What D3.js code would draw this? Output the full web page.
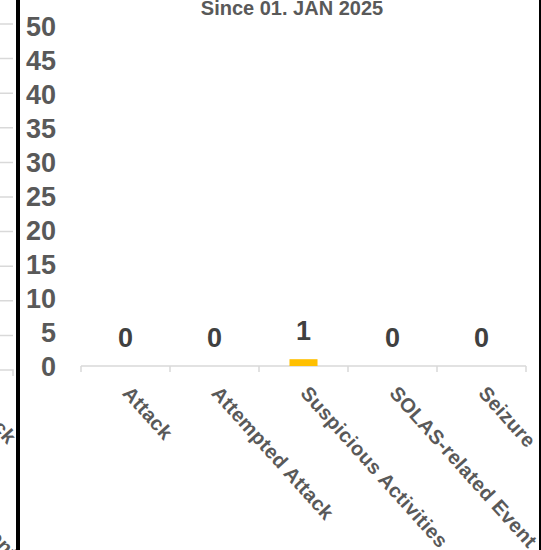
<!DOCTYPE html>
<html>
<head>
<meta charset="utf-8">
<script src="https://cdn.jsdelivr.net/npm/d3@7"></script>
<style>
  body { margin: 0; background: #fff; }
  text { font-family: "Liberation Sans", Arial, sans-serif; font-weight: bold; }
</style>
</head>
<body>
<div id="chart"></div>
<script>
// chart data
var categories = ["Attack", "Attempted Attack", "Suspicious Activities", "SOLAS-related Event", "Seizure"];
var values = [0, 0, 1, 0, 0];
var yTicks = [0, 5, 10, 15, 20, 25, 30, 35, 40, 45, 50];
var title = "Since 01. JAN 2025";
// cut-off neighbour chart on the left (only its last two labels show)
var leftLabels = ["SOLAS-related Event", "Attack"];
var leftShift = [[-10, 8], [-3.5, 0]];

var width = 541,
    height = 550;

var svg = d3.select('#chart').append('svg')
    .attr('width', width)
    .attr('height', height);

svg.append('rect')
    .attr('width', width)
    .attr('height', height)
    .attr('fill', '#fff');

var x = d3.scaleBand()
    .domain(categories)
    .range([81, 526]);

var y = d3.scaleLinear()
    .domain([0, 50])
    .range([366, 26]);

var labelAngle = 48;

// neighbour chart fragment, clipped to the strip left of the black border
svg.append('clipPath').attr('id', 'leftclip')
    .append('rect').attr('x', 0).attr('y', 0).attr('width', 16).attr('height', height);

var left = svg.append('g').attr('clip-path', 'url(#leftclip)');
var yL = d3.scaleLinear().domain([0, 50]).range([370, 24]);
var xL = d3.scaleBand().domain(d3.range(5)).range([81 - 513, 526 - 513]);

left.selectAll('line.grid')
    .data(yTicks.filter(function(d) { return d > 0; }))
    .enter().append('line')
    .attr('class', 'grid')
    .attr('x1', -100).attr('x2', 13)
    .attr('y1', function(d) { return yL(d); })
    .attr('y2', function(d) { return yL(d); })
    .attr('stroke', '#d9d9d9')
    .attr('stroke-width', 1.5);

left.append('path')
    .attr('d', 'M-100,' + yL(0) + 'H13V' + (yL(0) + 6))
    .attr('fill', 'none')
    .attr('stroke', '#d9d9d9')
    .attr('stroke-width', 1.5);

left.selectAll('text.cat')
    .data(leftLabels)
    .enter().append('text')
    .attr('class', 'cat')
    .attr('transform', function(d, i) {
        var cx = xL(i + 3) + xL.bandwidth() / 2 + leftShift[i][0];
        return 'translate(' + cx + ',' + (398 + leftShift[i][1]) + ') rotate(' + labelAngle + ')';
    })
    .attr('font-size', 20)
    .attr('letter-spacing', 0.4)
    .attr('fill', '#595959')
    .text(function(d) { return d; });

// gridlines
svg.selectAll('line.grid')
    .data(yTicks.filter(function(d) { return d > 0; }))
    .enter().append('line')
    .attr('class', 'grid')
    .attr('x1', 81).attr('x2', 526)
    .attr('y1', function(d) { return y(d); })
    .attr('y2', function(d) { return y(d); })
    .attr('stroke', '#d9d9d9')
    .attr('stroke-width', 1.5);

// category axis with ticks between categories
var xAxis = svg.append('g')
    .attr('transform', 'translate(0,' + y(0) + ')');

xAxis.append('line')
    .attr('x1', 81).attr('x2', 526)
    .attr('stroke', '#d9d9d9')
    .attr('stroke-width', 1.5);

xAxis.selectAll('line.tick')
    .data(categories.concat(['end']))
    .enter().append('line')
    .attr('class', 'tick')
    .attr('x1', function(d, i) { return i < categories.length ? x(d) : x.range()[1]; })
    .attr('x2', function(d, i) { return i < categories.length ? x(d) : x.range()[1]; })
    .attr('y1', 0).attr('y2', 6)
    .attr('stroke', '#d9d9d9')
    .attr('stroke-width', 1.5);

xAxis.selectAll('text.cat')
    .data(categories)
    .enter().append('text')
    .attr('class', 'cat')
    .attr('transform', function(d) {
        return 'translate(' + (x(d) + x.bandwidth() / 2 - 4) + ',' + (394 - y(0)) + ') rotate(' + labelAngle + ')';
    })
    .attr('font-size', 20)
    .attr('letter-spacing', 0.4)
    .attr('fill', '#595959')
    .text(function(d) { return d; });

// y labels
svg.selectAll('text.ylab')
    .data(yTicks)
    .enter().append('text')
    .attr('class', 'ylab')
    .attr('x', 56)
    .attr('y', function(d) { return y(d); })
    .attr('dy', '0.36em')
    .attr('text-anchor', 'end')
    .attr('font-size', 27)
    .attr('fill', '#595959')
    .text(function(d) { return d; });

// bars
var barW = x.bandwidth() * 0.315;
svg.selectAll('rect.bar')
    .data(values)
    .enter().append('rect')
    .attr('class', 'bar')
    .attr('x', function(d, i) { return x(categories[i]) + x.bandwidth() / 2 - barW / 2; })
    .attr('y', function(d) { return y(d); })
    .attr('width', barW)
    .attr('height', function(d) { return y(0) - y(d); })
    .attr('fill', '#ffc000');

// value labels
svg.selectAll('text.val')
    .data(values)
    .enter().append('text')
    .attr('class', 'val')
    .attr('x', function(d, i) { return x(categories[i]) + x.bandwidth() / 2; })
    .attr('y', function(d) { return y(d) - 19; })
    .attr('text-anchor', 'middle')
    .attr('font-size', 27)
    .attr('fill', '#404040')
    .text(function(d) { return d; });

// title
svg.append('text')
    .attr('x', 292)
    .attr('y', 15)
    .attr('text-anchor', 'middle')
    .attr('font-size', 20)
    .attr('fill', '#595959')
    .text(title);

// black borders
svg.append('rect').attr('x', 16).attr('y', 0).attr('width', 4).attr('height', height).attr('fill', '#000');
svg.append('rect').attr('x', 539).attr('y', 0).attr('width', 2).attr('height', height).attr('fill', '#000');
</script>
</body>
</html>
